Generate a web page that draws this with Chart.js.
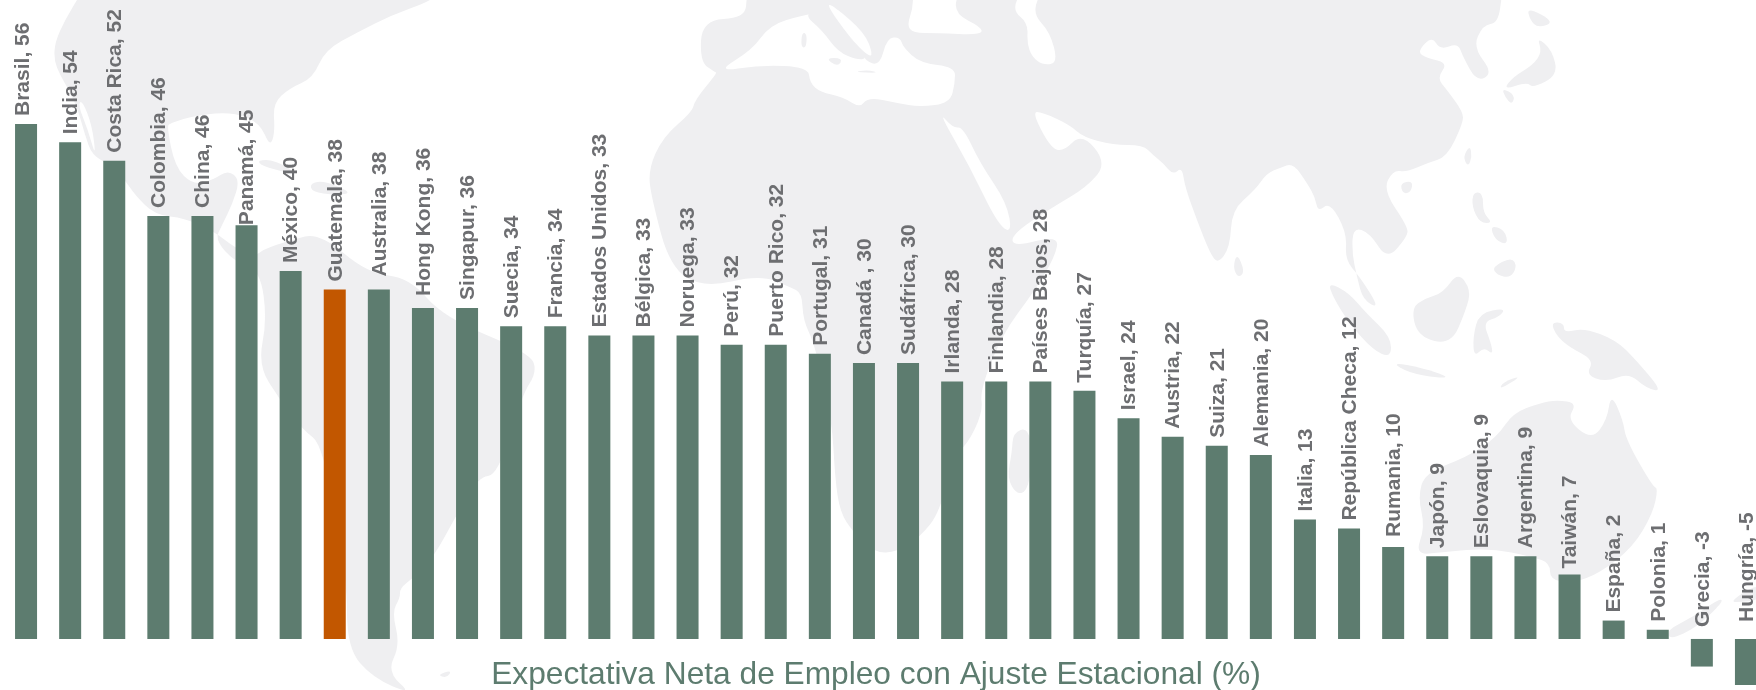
<!DOCTYPE html>
<html lang="es"><head><meta charset="utf-8">
<style>html,body{margin:0;padding:0;background:#fff;width:1756px;height:690px;overflow:hidden}canvas{display:block}</style>
<script src="https://cdn.jsdelivr.net/npm/chart.js@4/dist/chart.umd.min.js"></script>
</head><body><canvas id="c" width="1768" height="690" style="width:1768px;height:690px"></canvas>
<script>
const categories=["Brasil","India","Costa Rica","Colombia","China","Panamá","México","Guatemala","Australia","Hong Kong","Singapur","Suecia","Francia","Estados Unidos","Bélgica","Noruega","Perú","Puerto Rico","Portugal","Canadá ","Sudáfrica","Irlanda","Finlandia","Países Bajos","Turquía","Israel","Austria","Suiza","Alemania","Italia","República Checa","Rumania","Japón","Eslovaquia","Argentina","Taiwán","España","Polonia","Grecia","Hungría"];
const values=[56,54,52,46,46,45,40,38,38,36,36,34,34,33,33,33,32,32,31,30,30,28,28,28,27,24,22,21,20,13,12,10,9,9,9,7,2,1,-3,-5];
const axisTitle="Expectativa Neta de Empleo con Ajuste Estacional (%)";
const highlighted="Guatemala";
const labelGapOverride={"Panamá":0,"Australia":13,"Hong Kong":12,"Taiwán":6,"Grecia":12,"Hungría":17,"Rumania":10};
const labelShiftX={"Brasil":-4};

const land=[
[[84,-12],[80,-5],[65,20],[55,42],[54,60],[60,75],[70,92],[78,110],[85,135],[92,155],[110,165],[125,180],[135,195],[155,215],[185,218],[215,232],[235,248],[256,256],[262,250],[290,240],[320,233],[367,273],[410,278],[443,317],[530,353],[537,372],[522,395],[498,475],[478,477],[455,518],[433,558],[413,578],[400,588],[400,598],[392,612],[400,645],[387,672],[413,695],[373,678],[347,648],[347,578],[323,445],[303,430],[280,400],[258,365],[267,320],[260,270],[235,262],[215,240],[222,225],[232,205],[240,180],[228,170],[213,180],[193,185],[175,167],[167,127],[170,123],[197,115],[233,112],[260,123],[270,147],[275,132],[273,103],[290,88],[313,78],[325,50],[358,32],[392,15],[428,2],[436,-5],[438,-12]],
[[748,-12],[747,-5],[745,18],[702,20],[700,62],[715,72],[717,73],[695,100],[692,112],[663,137],[648,170],[652,200],[670,267],[703,288],[760,275],[790,287],[802,293],[803,320],[815,345],[832,420],[835,478],[840,512],[853,532],[875,553],[897,552],[920,537],[940,512],[953,455],[967,445],[983,412],[980,390],[1003,333],[1033,293],[1055,257],[1059,235],[1013,247],[1012,234],[1053,207],[1087,187],[1107,163],[1082,133],[1063,152],[1050,147],[1032,112],[1042,112],[1070,125],[1083,137],[1113,145],[1143,145],[1153,155],[1163,163],[1173,175],[1182,167],[1185,187],[1198,223],[1210,253],[1218,264],[1230,247],[1232,210],[1255,190],[1267,173],[1280,168],[1293,163],[1307,183],[1315,197],[1318,212],[1330,202],[1347,233],[1345,260],[1360,277],[1380,309],[1363,300],[1357,277],[1352,253],[1353,227],[1370,233],[1387,260],[1407,237],[1408,227],[1383,190],[1393,170],[1407,172],[1427,163],[1447,157],[1463,123],[1463,112],[1447,90],[1437,78],[1448,63],[1427,58],[1417,52],[1432,36],[1440,50],[1458,43],[1463,57],[1477,82],[1493,73],[1473,47],[1483,25],[1498,23],[1502,-5],[1502,-12]],
[[1028,427],[1013,433],[1012,452],[1007,478],[1017,495],[1028,490],[1033,455]],
[[1237,253],[1245,272],[1238,278],[1233,267]],
[[1470,145],[1472,157],[1468,167],[1463,157]],
[[1400,183],[1413,181],[1411,192],[1403,194]],
[[1537,37],[1552,50],[1558,75],[1533,88],[1527,82],[1503,90],[1513,77],[1533,65],[1542,52]],
[[1527,7],[1555,22],[1538,28],[1530,20]],
[[1502,88],[1515,95],[1512,105],[1505,97]],
[[1473,192],[1483,193],[1483,213],[1493,223],[1480,223],[1472,207]],
[[1492,267],[1512,257],[1517,267],[1510,278],[1497,275]],
[[1490,225],[1505,230],[1508,245],[1495,240]],
[[1458,272],[1471,290],[1466,310],[1451,345],[1418,337],[1411,308],[1426,298],[1443,293]],
[[1328,282],[1349,293],[1366,313],[1391,337],[1391,358],[1373,350],[1349,323],[1333,297]],
[[1391,362],[1423,368],[1449,377],[1439,378],[1409,373]],
[[1479,313],[1506,308],[1499,317],[1483,322],[1491,343],[1493,355],[1484,347],[1474,357],[1473,337]],
[[1551,322],[1564,323],[1564,333],[1584,328],[1616,340],[1636,360],[1663,392],[1646,388],[1629,373],[1606,382],[1586,375],[1594,360],[1569,347],[1556,335]],
[[1503,382],[1523,375],[1499,390]],
[[1611,393],[1623,420],[1626,440],[1653,487],[1658,488],[1653,513],[1633,547],[1600,573],[1573,583],[1550,580],[1550,563],[1533,557],[1490,548],[1443,552],[1415,555],[1425,527],[1418,497],[1425,473],[1467,457],[1497,437],[1513,413],[1540,403],[1557,400],[1577,403],[1567,420],[1592,440],[1607,420]],
[[1558,612],[1577,614],[1572,626],[1562,625]],
[[1667,630],[1693,617],[1720,598],[1723,602],[1697,627],[1670,640]],
[[1730,602],[1747,590],[1760,585],[1760,600],[1742,602]],
[[257,160],[275,160],[300,175],[285,172],[262,166]],
[[310,183],[325,181],[353,193],[335,195],[312,192]],
[[437,675],[452,670],[447,678]]
];
const seas=[
[[716,72],[752,50],[770,25],[803,15],[825,12],[855,42],[866,62],[880,65],[887,38],[900,37],[903,47],[920,63],[955,67],[955,83],[950,103],[920,107],[897,103],[868,97],[860,108],[843,97],[820,92],[810,83],[808,67],[760,65]],
[[826,4],[834,6],[865,33],[873,55],[868,56],[850,38]],
[[907,25],[913,8],[913,-12],[960,-12],[953,13],[983,28],[980,35],[937,33],[913,33]],
[[1012,10],[1023,-12],[1043,-12],[1032,13],[1050,32],[1058,63],[1043,65],[1032,57],[1027,43],[1028,23]],
[[938,111],[953,128],[963,127],[980,163],[1007,203],[1012,234],[997,223],[970,167]],
[[82,100],[92,125],[96,158],[88,130],[78,105]]
];
const landOnSea=[
[[803,14],[826,6],[850,38],[868,58],[858,60],[838,52],[822,30]],
[[825,58],[843,58],[838,67]],
[[853,72],[868,70],[880,73]],
[[802,32],[807,34],[806,48],[801,47]]
];
function fillPolys(ctx,list,color){ctx.fillStyle=color;for(const p of list){ctx.beginPath();const n=p.length;const mid=(a,b)=>[(a[0]+b[0])/2,(a[1]+b[1])/2];const s=mid(p[n-1],p[0]);ctx.moveTo(s[0],s[1]);for(let i=0;i<n;i++){const m=mid(p[i],p[(i+1)%n]);ctx.quadraticCurveTo(p[i][0],p[i][1],m[0],m[1]);}ctx.closePath();ctx.fill();}}
const mapBackground={id:'mapBackground',beforeDraw(chart){const ctx=chart.ctx;ctx.save();ctx.fillStyle='#fff';ctx.fillRect(0,0,chart.width,chart.height);fillPolys(ctx,land,'#EFEFF1');fillPolys(ctx,seas,'#fff');fillPolys(ctx,landOnSea,'#EFEFF1');ctx.restore();}};
const barLabels={id:'barLabels',afterDatasetsDraw(chart){const ctx=chart.ctx,meta=chart.getDatasetMeta(0),zero=chart.scales.y.getPixelForValue(0);ctx.save();ctx.font='bold 21px "Liberation Sans", Arial, sans-serif';ctx.fillStyle='#6D6E71';ctx.textAlign='left';ctx.textBaseline='middle';
meta.data.forEach((bar,i)=>{const n=categories[i],v=values[i];const top=Math.min(bar.y,zero);const gap=labelGapOverride[n]??8;ctx.save();ctx.translate(bar.x+1+(labelShiftX[n]||0),top-gap);ctx.rotate(-Math.PI/2);ctx.fillText(n+", "+v,0,0);ctx.restore();});ctx.restore();}};
const shiftTitle={id:'shiftTitle',afterLayout(chart){const t=chart.titleBlock;t.left-=10;t.right-=10;t.top+=1;t.bottom+=1;}};
new Chart(document.getElementById('c'),{type:'bar',
data:{labels:categories,datasets:[{data:values,backgroundColor:categories.map(n=>n===highlighted?'#C25700':'#5D7C6F'),barPercentage:0.499,categoryPercentage:1}]},
plugins:[mapBackground,barLabels,shiftTitle],
options:{responsive:false,animation:false,layout:{padding:{left:4,right:0,top:0,bottom:0}},
plugins:{legend:{display:false},tooltip:{enabled:false},title:{display:true,position:'bottom',text:axisTitle,color:'#5D7C6F',font:{family:'"Liberation Sans", Arial, sans-serif',size:31.7,weight:'normal',lineHeight:1},padding:{top:-31.7,bottom:0}}},
scales:{x:{display:false,grid:{display:false}},y:{display:false,min:-5.55,max:69.48,grid:{display:false}}}}});
</script></body></html>
